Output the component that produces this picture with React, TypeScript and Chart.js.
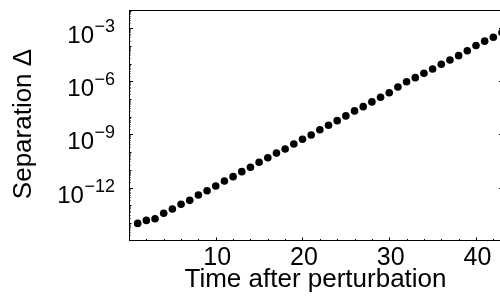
import { useEffect, useRef } from "react";
import { Chart, registerables } from "chart.js";

Chart.register(...registerables);

const times = [
  1, 2, 3, 4, 5, 6, 7, 8, 9, 10, 11, 12, 13, 14, 15, 16, 17, 18, 19, 20, 21,
  22, 23, 24, 25, 26, 27, 28, 29, 30, 31, 32, 33, 34, 35, 36, 37, 38, 39, 40,
  41, 42, 43,
];

const separation = [
  9.5e-15, 1.41e-14, 1.74e-14, 3.55e-14, 6.17e-14, 1.15e-13, 1.91e-13,
  3.8e-13, 6.61e-13, 1.23e-12, 2.34e-12, 4.17e-12, 7.94e-12, 1.41e-11,
  2.69e-11, 4.9e-11, 8.91e-11, 1.51e-10, 2.88e-10, 5.37e-10, 9.33e-10,
  1.86e-9, 3.31e-9, 6.03e-9, 1.12e-8, 2.14e-8, 3.72e-8, 6.92e-8, 1.26e-7,
  2.29e-7, 4.79e-7, 9.55e-7, 1.62e-6, 2.88e-6, 5.01e-6, 9.33e-6, 1.62e-5,
  2.82e-5, 5.37e-5, 1.05e-4, 1.86e-4, 3.09e-4, 5.75e-4,
];

const xMajorTicks = [10, 20, 30, 40];
const xMinorTicks = [2, 4, 6, 8, 12, 14, 16, 18, 22, 24, 26, 28, 32, 34, 36, 38, 42];
const yLabelExponents = [-3, -6, -9, -12];
const yDecadeExponents = [-15, -14, -13, -12, -11, -10, -9, -8, -7, -6, -5, -4, -3, -2];

const xTitle = "Time after perturbation";
const yTitle = "Separation Δ";

const FONT = '"Liberation Sans", Arial, Helvetica, sans-serif';

const framePlugin = {
  id: "framePlugin",
  afterDraw(chart: any) {
    const { ctx, chartArea } = chart;
    const { left, right, top, bottom } = chartArea;
    const xs = chart.scales.x;
    const ys = chart.scales.y;
    ctx.save();
    ctx.strokeStyle = "#000";
    ctx.fillStyle = "#000";
    ctx.lineWidth = 1;
    const L = Math.round(left) + 0.5;
    const R = Math.round(right) + 0.5;
    const T = Math.round(top) + 0.5;
    const B = Math.round(bottom) + 0.5;
    ctx.strokeRect(L, T, R - L, B - T);

    // x ticks (inward, bottom only)
    ctx.beginPath();
    for (const v of xMajorTicks) {
      const px = Math.round(xs.getPixelForValue(v)) + 0.5;
      ctx.moveTo(px, B);
      ctx.lineTo(px, B - 3);
    }
    for (const v of xMinorTicks) {
      const px = Math.round(xs.getPixelForValue(v)) + 0.5;
      ctx.moveTo(px, B);
      ctx.lineTo(px, B - 1.5);
    }
    ctx.stroke();

    // y ticks
    ctx.beginPath();
    for (const e of yDecadeExponents) {
      const major = yLabelExponents.includes(e);
      const py0 = ys.getPixelForValue(Math.pow(10, e));
      if (py0 >= top - 0.5 && py0 <= bottom + 0.5) {
        const py = Math.round(py0) + 0.5;
        const len = major ? 3.5 : 2;
        ctx.moveTo(L, py);
        ctx.lineTo(L + len, py);
        if (major) {
          ctx.moveTo(R, py);
          ctx.lineTo(R - len, py);
        }
      }
      for (let m = 2; m <= 9; m++) {
        const py1 = ys.getPixelForValue(m * Math.pow(10, e));
        if (py1 >= top && py1 <= bottom) {
          const py = Math.round(py1) + 0.5;
          ctx.moveTo(L, py);
          ctx.lineTo(L + 1, py);
        }
      }
    }
    ctx.stroke();

    // x tick labels
    ctx.font = `25px ${FONT}`;
    ctx.textAlign = "center";
    ctx.textBaseline = "alphabetic";
    for (const v of xMajorTicks) {
      const px = xs.getPixelForValue(v);
      ctx.fillText(String(v), px + 1.5, 265);
    }

    // y tick labels with superscripts
    for (const e of yLabelExponents) {
      const py = ys.getPixelForValue(Math.pow(10, e));
      const sup = "\u2212" + String(Math.abs(e));
      ctx.font = `18px ${FONT}`;
      const supW = ctx.measureText(sup).width;
      ctx.textAlign = "right";
      const rightEdge = 115;
      ctx.fillText(sup, rightEdge, py + 4);
      ctx.font = `24px ${FONT}`;
      ctx.fillText("10", rightEdge - supW - 0.5, py + 15);
    }

    // axis titles
    ctx.font = `26px ${FONT}`;
    ctx.textAlign = "center";
    ctx.fillText(xTitle, (left + right) / 2, 287);

    ctx.save();
    ctx.translate(31, 124);
    ctx.rotate(-Math.PI / 2);
    ctx.fillText(yTitle, 0, 0);
    ctx.restore();

    ctx.restore();
  },
};

export default function App() {
  const canvasRef = useRef<HTMLCanvasElement | null>(null);

  useEffect(() => {
    if (!canvasRef.current) return;
    const chart = new Chart(canvasRef.current, {
      type: "scatter",
      data: {
        datasets: [
          {
            data: times.map((t, i) => ({ x: t, y: separation[i] })),
            backgroundColor: "#000",
            borderWidth: 0,
            pointRadius: 3.8,
            pointHoverRadius: 3.8,
          },
        ],
      },
      options: {
        animation: false,
        responsive: false,
        maintainAspectRatio: false,
        events: [],
        layout: { padding: { left: 129, top: 10, right: 8, bottom: 65 } },
        plugins: {
          legend: { display: false },
          tooltip: { enabled: false },
        },
        scales: {
          x: { type: "linear", min: 0, max: 43, display: false },
          y: { type: "logarithmic", min: 1.1e-15, max: 1.07e-2, display: false },
        },
      },
      plugins: [framePlugin],
    });
    return () => chart.destroy();
  }, []);

  return (
    <div
      style={{
        position: "fixed",
        left: 0,
        top: 0,
        width: 500,
        height: 305,
        overflow: "hidden",
        background: "#fff",
      }}
    >
      <canvas ref={canvasRef} width={510} height={305} style={{ display: "block" }} />
    </div>
  );
}
